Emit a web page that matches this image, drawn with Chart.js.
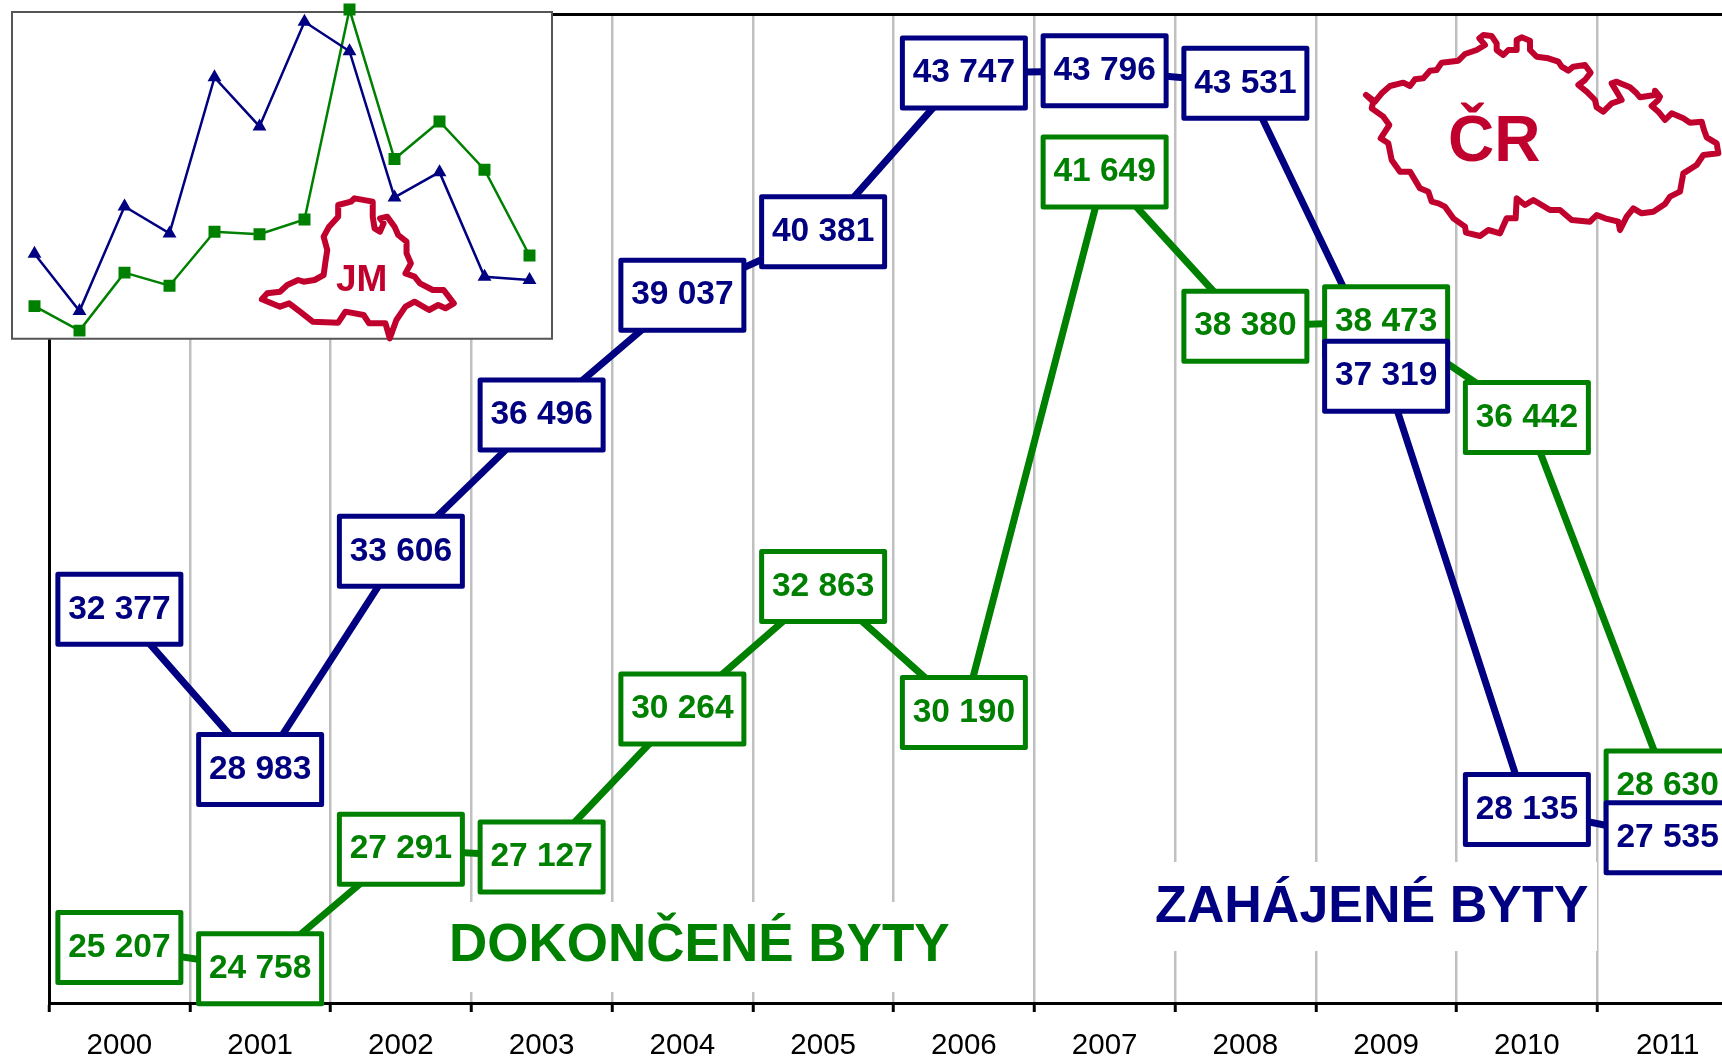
<!DOCTYPE html>
<html lang="cs">
<head>
<meta charset="utf-8">
<title>Zahájené a dokončené byty</title>
<script src="https://cdn.jsdelivr.net/npm/chart.js@4"></script>
<style>
    html, body { margin: 0; padding: 0; background: #fff; overflow: hidden; }
    #obal { position: relative; width: 1722px; height: 1058px; overflow: hidden; }
    canvas { position: absolute; left: 0; top: 0; }
</style>
</head>
<body>
<div id="obal">
    <canvas id="grafCR" width="1760" height="1058"></canvas>
    <canvas id="grafJM" width="570" height="348"></canvas>
</div>
<script>
// Data ČR
const roky = ["2000", "2001", "2002", "2003", "2004", "2005", "2006", "2007", "2008", "2009", "2010", "2011"];
const zahajeneCR = [32377, 28983, 33606, 36496, 39037, 40381, 43747, 43796, 43531, 37319, 28135, 27535];
const dokonceneCR = [25207, 24758, 27291, 27127, 30264, 32863, 30190, 41649, 38380, 38473, 36442, 28630];

// Data JM (bez popisků)
const zahajeneJM = [3040, 2340, 3620, 3290, 5200, 4600, 5880, 5520, 3730, 4040, 2760, 2720];
const dokonceneJM = [2400, 2100, 2810, 2650, 3310, 3280, 3460, 6030, 4200, 4660, 4070, 3020];

const MODRA = "#000080";
const ZELENA = "#008000";
const CERVENA = "#C0002D";

// Obrys ČR (souřadnice z výřezu)
const obrysCR = [[78,285],[105,305],[125,280],[150,258],[190,248],[210,258],[225,238],[250,235],[270,212],[290,210],[305,188],[355,182],[375,162],[410,150],[435,135],[418,115],[430,105],[455,108],[470,130],[470,150],[490,165],[505,150],[530,150],[530,120],[545,112],[570,122],[570,150],[590,170],[625,175],[655,185],[665,200],[685,212],[700,200],[735,195],[752,218],[735,240],[715,255],[740,275],[765,300],[770,322],[790,335],[815,310],[845,300],[830,275],[815,250],[830,245],[870,262],[890,280],[900,292],[945,285],[945,272],[960,290],[955,300],[935,318],[955,335],[975,360],[995,340],[1030,355],[1050,368],[1085,365],[1092,390],[1100,412],[1130,430],[1135,460],[1090,465],[1070,495],[1030,520],[1020,575],[990,590],[975,612],[940,635],[905,640],[880,625],[860,650],[840,690],[835,665],[795,655],[770,645],[750,665],[695,660],[660,630],[630,630],[580,600],[555,615],[530,595],[527,655],[500,655],[480,700],[445,690],[420,708],[378,698],[375,680],[340,655],[315,620],[295,610],[275,605],[265,575],[240,565],[210,515],[180,515],[155,480],[145,430],[122,415],[148,375],[130,350],[95,325],[100,305]];

// Obrys JM (souřadnice z výřezu)
const obrysJM = [[720,898],[735,880],[770,875],[790,855],[820,840],[835,845],[865,840],[890,825],[895,785],[900,750],[890,710],[905,680],[930,650],[930,615],[965,605],[975,595],[1025,605],[1025,650],[1030,685],[1045,695],[1055,670],[1045,655],[1065,650],[1085,680],[1095,705],[1118,725],[1118,760],[1130,790],[1115,820],[1140,830],[1155,850],[1190,870],[1220,870],[1248,910],[1225,925],[1205,915],[1180,930],[1140,905],[1115,920],[1090,960],[1072,1015],[1060,970],[1015,970],[1000,945],[950,935],[930,968],[860,965],[825,935],[795,910],[770,920]];

function mezery(cislo) {
    return String(cislo).replace(/\B(?=(\d{3})+$)/g, " ");
}

// Nakreslí obrys kraje a vyplní ho bíle
function kresliObrys(ctx, obrys, posunX, meritkoX) {
    ctx.save();
    ctx.beginPath();
    obrys.forEach((bod, i) => {
        const x = posunX + bod[0] / meritkoX;
        const y = bod[1] / 3;
        if (i === 0) ctx.moveTo(x, y);
        else ctx.lineTo(x, y);
    });
    ctx.closePath();
    ctx.fillStyle = "#fff";
    ctx.fill();
    ctx.lineWidth = 6;
    ctx.lineJoin = "round";
    ctx.strokeStyle = CERVENA;
    ctx.stroke();
    ctx.restore();
}

function kresliNapis(ctx, text, x, y, font, barva) {
    ctx.save();
    ctx.font = font;
    ctx.fillStyle = barva;
    ctx.textAlign = "left";
    ctx.textBaseline = "alphabetic";
    ctx.fillText(text, x, y);
    ctx.restore();
}

// Popisky v rámečcích, napřed zelené a přes ně modré
const popisky = {
    id: "popisky",
    afterDatasetsDraw(chart) {
        const ctx = chart.ctx;
        [0, 1].forEach(index => {
            const ds = chart.data.datasets[index];
            chart.getDatasetMeta(index).data.forEach((bod, i) => {
                ctx.save();
                ctx.fillStyle = "#fff";
                ctx.strokeStyle = ds.borderColor;
                ctx.lineWidth = 5;
                ctx.lineJoin = "round";
                ctx.beginPath();
                ctx.rect(bod.x - 61.5, bod.y - 35, 123, 70);
                ctx.fill();
                ctx.stroke();
                ctx.fillStyle = ds.borderColor;
                ctx.font = "bold 33.5px 'Liberation Sans'";
                ctx.textAlign = "center";
                ctx.textBaseline = "middle";
                ctx.fillText(mezery(ds.data[i]), bod.x, bod.y);
                ctx.restore();
            });
        });
        kresliObrys(ctx, obrysCR, 1340, 3);
        kresliNapis(ctx, "ČR", 1448, 161, "bold 64px 'Liberation Sans'", CERVENA);
        kresliNapis(ctx, "DOKONČENÉ BYTY", 449, 961, "bold 53px 'Liberation Sans'", ZELENA);
        kresliNapis(ctx, "ZAHÁJENÉ BYTY", 1155, 922, "bold 52px 'Liberation Sans'", MODRA);
    }
};

// Bílé plochy pod nápisy přeruší mřížku
const podklady = {
    id: "podklady",
    beforeDatasetsDraw(chart) {
        const ctx = chart.ctx;
        ctx.save();
        ctx.fillStyle = "#fff";
        ctx.fillRect(445, 902, 508, 90);
        ctx.fillRect(1150, 862, 447, 89);
        ctx.restore();
    }
};

new Chart(document.getElementById("grafCR"), {
    type: "line",
    data: {
        labels: roky,
        datasets: [
            { label: "DOKONČENÉ BYTY", data: dokonceneCR, borderColor: ZELENA, borderWidth: 7, pointRadius: 0, tension: 0 },
            { label: "ZAHÁJENÉ BYTY", data: zahajeneCR, borderColor: MODRA, borderWidth: 7, pointRadius: 0, tension: 0 }
        ]
    },
    options: {
        responsive: false,
        animation: false,
        layout: { padding: { left: 49, top: 14, right: 22, bottom: 0 } },
        plugins: { legend: { display: false }, tooltip: { enabled: false } },
        scales: {
            x: {
                offset: true,
                afterFit(scale) { scale.height = 55; },
                border: { color: "#000", width: 3 },
                grid: { offset: true, color: "#c0c0c0", lineWidth: 2.5, tickColor: "#000", tickWidth: 3, tickLength: 9 },
                ticks: { color: "#000", padding: 16, maxRotation: 0, font: { family: "'Liberation Sans'", size: 29.5 } }
            },
            y: {
                min: 24030,
                max: 45000,
                afterFit(scale) { scale.width = 0; },
                border: { color: "#000", width: 3 },
                grid: {
                    color: ctx => ctx.tick.value === 45000 ? "#000" : "transparent",
                    lineWidth: 3,
                    drawTicks: false
                },
                ticks: { display: false, stepSize: 20970 }
            }
        }
    },
    plugins: [podklady, popisky]
});

// Rámeček a obrys v malém grafu
const ramecekJM = {
    id: "ramecekJM",
    beforeDatasetsDraw(chart) {
        const ctx = chart.ctx;
        const a = chart.chartArea;
        ctx.save();
        ctx.fillStyle = "#fff";
        ctx.strokeStyle = "#555";
        ctx.lineWidth = 2;
        ctx.beginPath();
        ctx.rect(a.left, a.top, a.right - a.left, a.bottom - a.top);
        ctx.fill();
        ctx.stroke();
        ctx.restore();
    },
    afterDatasetsDraw(chart) {
        const ctx = chart.ctx;
        kresliObrys(ctx, obrysJM, 0, 2.75);
        kresliNapis(ctx, "JM", 336, 291, "bold 37px 'Liberation Sans'", CERVENA);
    }
};

new Chart(document.getElementById("grafJM"), {
    type: "line",
    data: {
        labels: roky,
        datasets: [
            { data: zahajeneJM, borderColor: MODRA, backgroundColor: MODRA, borderWidth: 2.5, pointStyle: "triangle", pointRadius: 5.5, tension: 0, clip: false },
            { data: dokonceneJM, borderColor: ZELENA, backgroundColor: ZELENA, borderWidth: 2.5, pointStyle: "rect", pointRadius: 6.7, tension: 0, clip: false }
        ]
    },
    options: {
        responsive: false,
        animation: false,
        layout: { padding: { left: 12, top: 12, right: 18, bottom: 3 } },
        plugins: { legend: { display: false }, tooltip: { enabled: false } },
        scales: {
            x: { display: false, offset: true },
            y: { display: false, min: 2000, max: 6000 }
        }
    },
    plugins: [ramecekJM]
});
</script>
</body>
</html>
